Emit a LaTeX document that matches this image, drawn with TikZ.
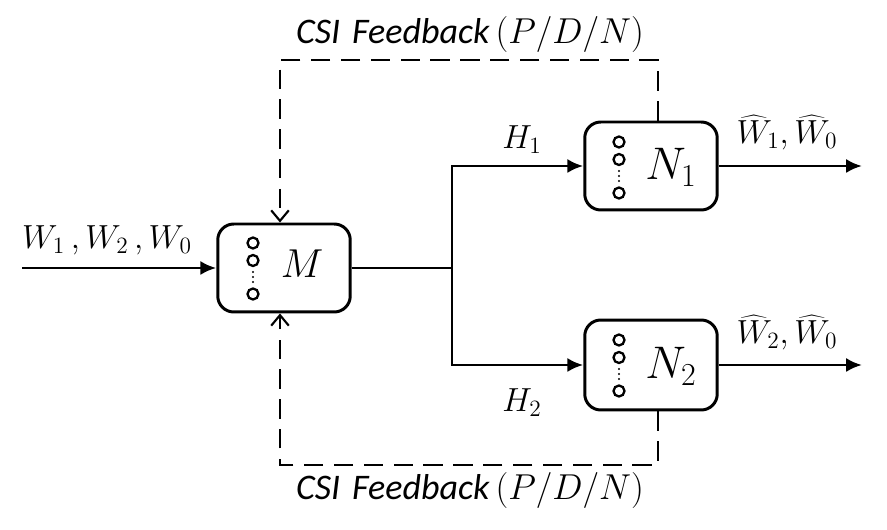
\documentclass[tikz,border=0pt]{standalone}
\usepackage{fix-cm}
\usepackage{fontspec}
\setsansfont{Carlito}
\usepackage{tikz}
\usetikzlibrary{arrows.meta,calc}

\begin{document}
\begin{tikzpicture}[x=0.02cm, y=-0.02cm,
    blk/.style={draw, line width=1.7pt, rounded corners=0.32cm, minimum width=2.65cm, minimum height=1.76cm},
    sig/.style={line width=1.7pt, -{Latex[length=9pt,width=8pt]}},
    fb/.style={line width=1.7pt, dash pattern=on 11pt off 6pt, -{Straight Barb[length=6pt,width=10pt,line width=1.2pt]}},
    lbl/.style={font=\fontsize{19}{22}\selectfont},
    fbl/.style={font=\fontsize{20.5}{24}\selectfont\sffamily\itshape}]
    \useasboundingbox[fill=white] (0,0) rectangle (887,530);

    % blocks
    \node[blk] (M) at (284,268) {};
    \node[blk] (N1) at (651,166) {};
    \node[blk, minimum height=1.8cm] (N2) at (651,365) {};
    \node[font=\fontsize{23}{26}\selectfont] (Mtxt) at (302,264) {$M$};
    \node[font=\fontsize{26}{30}\selectfont] (N1txt) at (671,167) {$N_1$};
    \node[font=\fontsize{26}{30}\selectfont] (N2txt) at (671,366) {$N_2$};

    % antenna columns
    \foreach \x/\y in {253/243, 619/142, 619/340} {
        \foreach \d in {0,17.5,51}
            \draw[line width=1.3pt] (\x,\y+\d) circle[radius=5.5];
        \foreach \d in {29,34,39}
            \fill (\x,\y+\d) circle[radius=1.2];
    }

    % signal paths
    \coordinate (in) at (22,268);
    \coordinate (j) at (452,268);
    \coordinate (o1) at (862,166);
    \coordinate (o2) at (862,365);
    \draw[sig] (in) -- (M.west);
    \draw[line width=1.7pt] (M.east) -- (j);
    \draw[sig] (j) |- (N1.west);
    \draw[sig] (j) |- (N2.west);
    \draw[sig] (N1.east) -- (o1);
    \draw[sig] (N2.east) -- (o2);

    \node[lbl] (win) at (107,240) {$W_1{\,},W_2{\,},W_0$};
    \node[lbl] (h1) at (522,140) {$H_1$};
    \node[lbl] (h2) at (522,403) {$H_2$};
    \node[lbl] (w1) at (787,133) {$\widehat{W}_1,\widehat{W}_0$};
    \node[lbl] (w2) at (787,333) {$\widehat{W}_2,\widehat{W}_0$};

    % CSI feedback
    \coordinate (t1) at (658,60);
    \coordinate (t2) at (280,60);
    \coordinate (b1) at (658,465);
    \coordinate (b2) at (280,465);
    \draw[fb] (t1 |- N1.north) -- (t1) -- (t2) -- (t2 |- M.north);
    \draw[fb] (b1 |- N2.south) -- (b1) -- (b2) -- (b2 |- M.south);
    \node[fbl] (fbtop) at (470,35) {CSI\,\,Feedback\,$(P/D/N)$};
    \node[fbl] (fbbot) at (470,490) {CSI\,\,Feedback\,$(P/D/N)$};
\end{tikzpicture}
\end{document}
